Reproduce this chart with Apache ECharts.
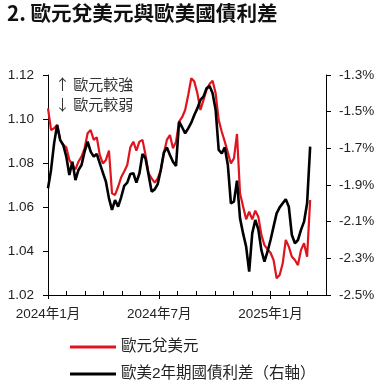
<!DOCTYPE html>
<html><head><meta charset="utf-8">
<script src="https://cdn.jsdelivr.net/npm/echarts@6/dist/echarts.min.js"></script>
<style>html,body{margin:0;padding:0;background:#fff}#c{width:380px;height:381px}</style>
</head><body><div id="c"></div>
<script>
const dates = ['2024-01-01','2024-01-06','2024-01-11','2024-01-16','2024-01-21','2024-01-26','2024-01-31','2024-02-05','2024-02-10','2024-02-15','2024-02-20','2024-02-25','2024-03-01','2024-03-06','2024-03-11','2024-03-16','2024-03-21','2024-03-26','2024-03-31','2024-04-05','2024-04-10','2024-04-15','2024-04-20','2024-04-25','2024-04-30','2024-05-05','2024-05-10','2024-05-15','2024-05-20','2024-05-25','2024-05-30','2024-06-04','2024-06-09','2024-06-14','2024-06-19','2024-06-24','2024-06-29','2024-07-04','2024-07-09','2024-07-14','2024-07-19','2024-07-24','2024-07-29','2024-08-03','2024-08-08','2024-08-13','2024-08-18','2024-08-23','2024-08-28','2024-09-02','2024-09-07','2024-09-12','2024-09-17','2024-09-22','2024-09-27','2024-10-02','2024-10-07','2024-10-12','2024-10-17','2024-10-22','2024-10-27','2024-11-01','2024-11-06','2024-11-11','2024-11-16','2024-11-21','2024-11-26','2024-12-01','2024-12-06','2024-12-11','2024-12-16','2024-12-21','2024-12-26','2024-12-31','2025-01-05','2025-01-10','2025-01-15','2025-01-20','2025-01-25','2025-01-30','2025-02-04','2025-02-09','2025-02-14','2025-02-19','2025-02-24','2025-03-01','2025-03-06'];
const eurusd = [1.1048,1.0950,1.0958,1.0973,1.0905,1.0882,1.0871,1.0814,1.0791,1.0771,
1.0806,1.0829,1.0867,1.0935,1.0950,1.0905,1.0917,1.0836,1.0798,1.0814,
1.0856,1.0662,1.0655,1.0692,1.0735,1.0761,1.0791,1.0871,1.0897,1.0856,
1.0897,1.0905,1.0836,1.0753,1.0730,1.0711,1.0730,1.0768,1.0844,1.0905,
1.0927,1.0867,1.0897,1.0988,1.1008,1.1041,1.1109,1.1185,1.1170,1.1117,
1.1041,1.1086,1.1132,1.1159,1.1174,1.1117,1.0995,1.0942,1.0897,1.0847,
1.0798,1.0821,1.0932,1.0662,1.0602,1.0544,1.0579,1.0544,1.0583,1.0556,
1.0473,1.0427,1.0408,1.0392,1.0359,1.0276,1.0291,1.0344,1.0450,1.0420,
1.0374,1.0359,1.0336,1.0405,1.0435,1.0374,1.0632];
const spread2y = [-1.918,-1.818,-1.673,-1.573,-1.655,-1.682,-1.745,-1.845,-1.773,-1.873,
-1.818,-1.791,-1.718,-1.664,-1.718,-1.745,-1.731,-1.782,-1.833,-1.882,
-1.973,-2.036,-1.982,-2.018,-1.967,-1.905,-1.887,-1.840,-1.836,-1.887,
-1.836,-1.731,-1.755,-1.845,-1.936,-1.924,-1.895,-1.818,-1.724,-1.695,
-1.736,-1.773,-1.796,-1.555,-1.585,-1.618,-1.591,-1.560,-1.518,-1.482,
-1.436,-1.418,-1.373,-1.360,-1.400,-1.491,-1.709,-1.727,-1.695,-1.791,
-2.000,-1.991,-1.876,-2.082,-2.164,-2.236,-2.373,-2.164,-2.091,-2.142,
-2.255,-2.318,-2.264,-2.200,-2.127,-2.055,-2.022,-2.000,-1.978,-2.018,
-2.173,-2.218,-2.200,-2.145,-2.100,-2.000,-1.691];
const months = ['2024年1月','2024年2月','2024年3月','2024年4月','2024年5月','2024年6月','2024年7月','2024年8月','2024年9月','2024年10月','2024年11月','2024年12月','2025年1月','2025年2月','2025年3月','2025年4月'];
const seriesNames = ['歐元兌美元','歐美2年期國債利差（右軸）'];
const titleText = '2. 歐元兌美元與歐美國債利差';
const noteUp = '↑ 歐元較強';
const noteDown = '↓ 歐元較弱';

const FONT = '"Liberation Sans", "Noto Sans CJK TC", sans-serif';
const RED = '#e0141e';
const chart = echarts.init(document.getElementById('c'), null, {renderer: 'canvas'});
const major = i => i % 6 === 0;
chart.setOption({
  animation: false,
  backgroundColor: '#fff',
  grid: {left: 48, right: 54, top: 75, bottom: 86, containLabel: false},
  graphic: [
    {type: 'text', left: 7, top: 3, style: {text: titleText, font: 'bold 20.6px "Noto Sans CJK TC", sans-serif', fill: '#111'}},
    {type: 'text', left: 55, top: 77, style: {text: noteUp, font: '15px "Noto Sans CJK TC", sans-serif', fill: '#333'}},
    {type: 'text', left: 55, top: 97, style: {text: noteDown, font: '15px "Noto Sans CJK TC", sans-serif', fill: '#333'}}
  ],
  legend: [
    {data: [seriesNames[0]], left: 65, top: 333, icon: 'rect', itemWidth: 46, itemHeight: 3,
     textStyle: {fontFamily: FONT, fontSize: 15.5, color: '#222', lineHeight: 18}},
    {data: [seriesNames[1]], left: 65, top: 360, icon: 'rect', itemWidth: 46, itemHeight: 3,
     textStyle: {fontFamily: FONT, fontSize: 15.5, color: '#222', lineHeight: 18}}
  ],
  xAxis: [
    {type: 'time', min: '2024-01-01', max: '2025-04-01', show: false},
    {type: 'category', data: months, boundaryGap: false, position: 'bottom',
     axisLine: {show: true, lineStyle: {color: '#000', width: 1}},
     axisTick: {show: true, inside: true, length: 4, interval: 0, lineStyle: {color: '#000'}},
     axisLabel: {show: false}, splitLine: {show: false}},
    {type: 'category', data: months, boundaryGap: false, position: 'bottom',
     axisLine: {show: false},
     axisTick: {show: true, inside: false, length: 4, interval: major, lineStyle: {color: '#000'}},
     axisLabel: {show: true, interval: major, margin: 13, fontFamily: FONT, fontSize: 13.5, color: '#222'},
     splitLine: {show: false}}
  ],
  yAxis: [
    {type: 'value', min: 1.02, max: 1.12, interval: 0.02, position: 'left',
     axisLine: {show: true, lineStyle: {color: '#000'}},
     axisTick: {show: true, length: 5, lineStyle: {color: '#000'}},
     axisLabel: {margin: 14, fontFamily: FONT, fontSize: 13.5, color: '#222', formatter: v => v.toFixed(2)},
     splitLine: {show: false}},
    {type: 'value', min: -2.5, max: -1.3, interval: 0.2, position: 'right',
     axisLine: {show: true, lineStyle: {color: '#000'}},
     axisTick: {show: true, length: 5, lineStyle: {color: '#000'}},
     axisLabel: {margin: 13, fontFamily: FONT, fontSize: 13.5, color: '#222', formatter: v => v.toFixed(1) + '%'},
     splitLine: {show: false}}
  ],
  series: [
    {name: seriesNames[0], type: 'line', xAxisIndex: 0, yAxisIndex: 0, showSymbol: false, symbol: 'none',
     lineStyle: {color: RED, width: 2.2}, itemStyle: {color: RED},
     data: dates.map((d, i) => [d, eurusd[i]])},
    {name: seriesNames[1], type: 'line', xAxisIndex: 0, yAxisIndex: 1, showSymbol: false, symbol: 'none',
     lineStyle: {color: '#000', width: 2.6}, itemStyle: {color: '#000'},
     data: dates.map((d, i) => [d, spread2y[i]])}
  ]
});
</script></body></html>
